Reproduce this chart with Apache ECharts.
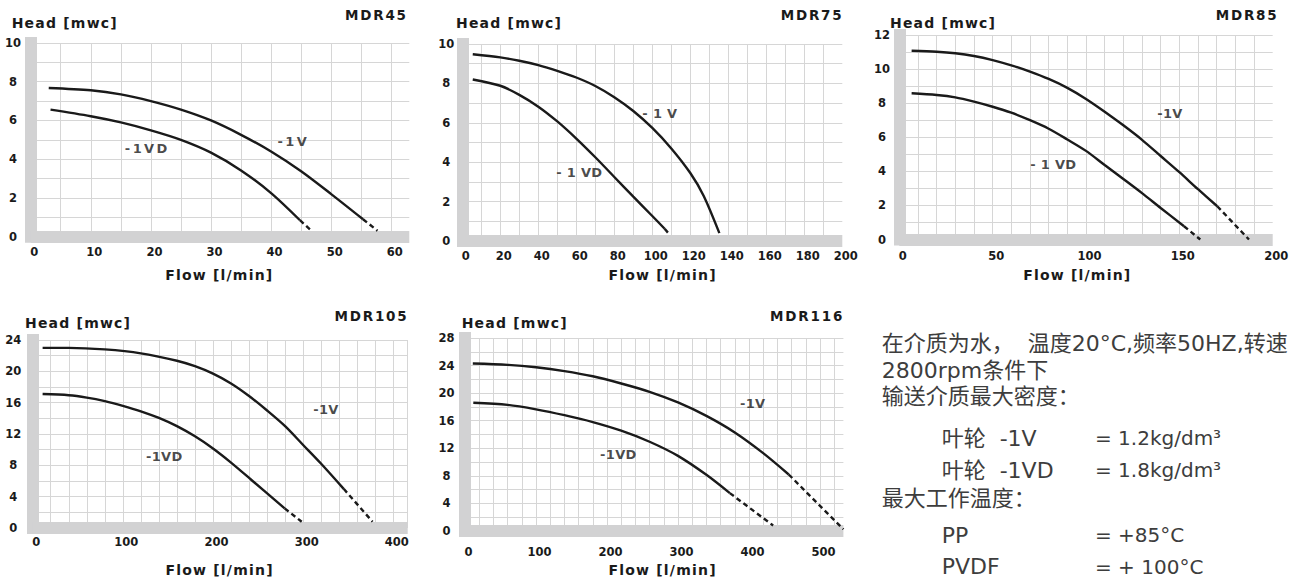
<!DOCTYPE html>
<html>
<head>
<meta charset="utf-8">
<script src="https://cdn.jsdelivr.net/npm/echarts@6.0.0/dist/echarts.min.js"></script>
<style>
html,body{margin:0;padding:0;background:#ffffff;}
#chart{width:1302px;height:580px;}
text[style*="lsAxis"]{letter-spacing:1.2px;}
text[style*="lsTitle"]{letter-spacing:1.8px;}
text[style*="lsWide"]{letter-spacing:2.4px;}
text[style*="lsMid"]{letter-spacing:0.3px;}
</style>
</head>
<body>
<div id="chart"></div>
<script>
// ---------------- data ----------------
const MODELS = ['MDR45', 'MDR75', 'MDR85', 'MDR105', 'MDR116'];
const X_MAX = [63, 200, 200, 416, 533];
const Y_MAX = [10, 10, 12, 24, 28];
const X_GRID_STEP = [5, 10, 10, 20, 20];
const X_LABEL_STEP = [10, 20, 50, 100, 100];
const Y_GRID_STEP = [1, 1, 1, 2, 2];
const Y_LABEL_STEP = [2, 2, 2, 4, 4];
const X_AXIS_NAME = 'Flow [l/min]';
const Y_AXIS_NAME = 'Head [mwc]';

// MDR45
const MDR45_1V = [[3, 7.68], [10, 7.56], [15, 7.35], [20, 7.0], [25, 6.56], [30, 6.0], [35, 5.26], [40, 4.4], [45, 3.38], [50, 2.2], [55.3, 0.9]];
const MDR45_1V_DASH = [[55.3, 0.9], [57.7, 0.31]];
const MDR45_1VD = [[3.3, 6.56], [10, 6.22], [15, 5.9], [20, 5.49], [25, 5.0], [30, 4.34], [35, 3.42], [40, 2.25], [44.8, 0.85]];
const MDR45_1VD_DASH = [[44.8, 0.85], [46.7, 0.31]];
const MDR45_LABELS = [[19.4, 4.54, '-1VD'], [43.7, 4.9, '-1V']];

// MDR75
const MDR75_1V = [[5.5, 9.48], [20, 9.32], [30, 9.15], [40, 8.93], [50, 8.64], [60, 8.3], [70, 7.87], [80, 7.3], [90, 6.6], [100, 5.74], [110, 4.7], [120, 3.45], [127, 2.3], [135.3, 0.4]];
const MDR75_1V_DASH = [];
const MDR75_1VD = [[5.5, 8.2], [20, 7.88], [30, 7.42], [40, 6.82], [50, 6.07], [60, 5.2], [70, 4.25], [80, 3.25], [90, 2.25], [100, 1.27], [106.5, 0.62]];
const MDR75_1VD_DASH = [[106.5, 0.62], [109.3, 0.3]];
const MDR75_LABELS = [[104, 6.48, '- 1 V'], [61.6, 3.49, '- 1 VD']];

// MDR85
const MDR85_1V = [[6.6, 11.08], [20, 11.02], [30, 10.93], [40, 10.77], [50, 10.53], [60, 10.22], [70, 9.85], [80, 9.42], [90, 8.9], [100, 8.25], [110, 7.5], [120, 6.7], [130, 5.85], [140, 4.9], [150, 3.95], [160, 2.95], [170.3, 1.95]];
const MDR85_1V_DASH = [[170.3, 1.95], [187.3, 0.0]];
const MDR85_1VD = [[6.6, 8.58], [20, 8.48], [30, 8.34], [40, 8.09], [50, 7.79], [60, 7.44], [70, 7.0], [80, 6.5], [90, 5.87], [100, 5.2], [110, 4.37], [120, 3.55], [130, 2.72], [140, 1.85], [152.5, 0.78]];
const MDR85_1VD_DASH = [[152.5, 0.78], [161.2, 0.0]];
const MDR85_LABELS = [[145, 7.4, '-1V'], [82.5, 4.43, '- 1 VD']];

// MDR105
const MDR105_1V = [[11, 23.0], [40, 23.0], [80, 22.8], [120, 22.3], [160, 21.35], [180, 20.65], [200, 19.7], [220, 18.45], [240, 16.85], [260, 15.0], [280, 13.0], [300, 10.6], [320, 8.2], [345, 5.0]];
const MDR105_1V_DASH = [[345, 5.0], [377, 0.8]];
const MDR105_1VD = [[11, 17.1], [40, 16.95], [60, 16.65], [80, 16.2], [100, 15.6], [120, 14.9], [140, 14.05], [160, 13.0], [180, 11.7], [200, 10.15], [220, 8.35], [243, 6.1], [279.5, 2.5]];
const MDR105_1VD_DASH = [[279.5, 2.5], [298.4, 0.8]];
const MDR105_LABELS = [[325.3, 15.07, '-1V'], [146, 9.1, '-1VD']];

// MDR116
const MDR116_1V = [[11, 24.3], [60, 24.1], [100, 23.75], [140, 23.2], [180, 22.45], [220, 21.4], [260, 20.2], [300, 18.65], [340, 16.7], [380, 14.3], [420, 11.3], [456, 8.2]];
const MDR116_1V_DASH = [[456, 8.2], [533, 0.25]];
const MDR116_1VD = [[11.7, 18.6], [60, 18.3], [100, 17.65], [140, 16.8], [180, 15.8], [220, 14.55], [260, 12.95], [300, 10.9], [340, 8.15], [373, 5.5]];
const MDR116_1VD_DASH = [[373, 5.5], [434, 0.8]];
const MDR116_LABELS = [[405.2, 18.53, '-1V'], [216, 11.03, '-1VD']];

// Notes text
const NOTE_LINES = [
  '在介质为水，  温度20°C,频率50HZ,转速',
  '2800rpm条件下',
  '输送介质最大密度：',
  '最大工作温度：'
];
const NOTE_ROWS = [
  ['叶轮  -1V', '= 1.2kg/dm³'],
  ['叶轮  -1VD', '= 1.8kg/dm³'],
  ['PP', '= +85°C'],
  ['PVDF', '= + 100°C']
];

// ---------------- layout / style ----------------
const CURVES = [
  [MDR45_1V, MDR45_1V_DASH, MDR45_1VD, MDR45_1VD_DASH, MDR45_LABELS],
  [MDR75_1V, MDR75_1V_DASH, MDR75_1VD, MDR75_1VD_DASH, MDR75_LABELS],
  [MDR85_1V, MDR85_1V_DASH, MDR85_1VD, MDR85_1VD_DASH, MDR85_LABELS],
  [MDR105_1V, MDR105_1V_DASH, MDR105_1VD, MDR105_1VD_DASH, MDR105_LABELS],
  [MDR116_1V, MDR116_1V_DASH, MDR116_1VD, MDR116_1VD_DASH, MDR116_LABELS]
];
const GRID_RECT = [
  [30.7, 43, 378.6, 193.7],
  [462.3, 44, 380, 197],
  [899.3, 35, 373.4, 204.5],
  [32.7, 340, 375, 188],
  [465, 338, 378.4, 193]
];
const Y_LABEL_MARGIN = [17.7, 16, 17.3, 19.4, 18.5];
const X_LABEL_MARGIN = [9.6, 8.7, 10.2, 8.3, 15.3];
const X_SHOW_MAX_LINE = [false, false, false, true, false];
const CURVE_FONT = ['lsWide', 'lsMid', 'lsMid', 'lsMid', 'lsMid'];
const HEAD_POS = [[11.7, 23], [456, 23.3], [890, 23.3], [25, 323.3], [461.7, 323.3]];
const TITLE_POS = [[407.8, 15], [843.5, 15], [1278.5, 15], [408.5, 316], [844.1, 316]];
const FLOW_POS = [[219.3, 275], [662.6, 275], [1077.3, 275], [219.6, 570], [662.6, 570]];

const BAR = '#d2d2d3';
const GRIDC = '#d6d6d6';
const INK = '#1a1a1a';
const FF = "'DejaVu Sans', 'Liberation Sans', sans-serif";

const grids = [], xAxes = [], yAxes = [], series = [], graphics = [];

MODELS.forEach((name, i) => {
  const r = GRID_RECT[i];
  grids.push({left: r[0], top: r[1], width: r[2], height: r[3], containLabel: false, outerBoundsMode: 'none'});
  xAxes.push({
    type: 'value', gridIndex: i, min: 0, max: X_MAX[i], interval: X_GRID_STEP[i],
    axisLine: {show: true, onZero: false, lineStyle: {color: BAR, width: 12, cap: 'butt'}},
    axisTick: {show: false},
    splitLine: {show: true, showMinLine: false, showMaxLine: X_SHOW_MAX_LINE[i], lineStyle: {color: GRIDC, width: 1}},
    axisLabel: {
      margin: X_LABEL_MARGIN[i], padding: [0, 0, 0, 7], fontFamily: FF, fontWeight: 'bold', fontSize: 11.5, color: INK,
      showMinLabel: true, showMaxLabel: true,
      formatter: v => (Math.abs(v % X_LABEL_STEP[i]) < 1e-9 ? String(v) : '')
    }
  });
  yAxes.push({
    type: 'value', gridIndex: i, min: 0, max: Y_MAX[i], interval: Y_GRID_STEP[i],
    axisLine: {show: true, onZero: false, lineStyle: {color: BAR, width: 12, cap: 'square'}},
    axisTick: {show: false},
    splitLine: {show: true, showMinLine: false, showMaxLine: true, lineStyle: {color: GRIDC, width: 1}},
    axisLabel: {
      margin: Y_LABEL_MARGIN[i], align: 'center', fontFamily: FF, fontWeight: 'bold', fontSize: 11.5, color: INK,
      showMinLabel: true, showMaxLabel: true,
      formatter: v => (Math.abs(v % Y_LABEL_STEP[i]) < 1e-9 ? String(v) : '')
    }
  });
  const c = CURVES[i];
  const solid = {color: INK, width: 2.4};
  const dash = {color: INK, width: 2.4, type: [5, 3.5]};
  [[c[0], solid, 0.3], [c[1], dash, 0], [c[2], solid, 0.3], [c[3], dash, 0]].forEach(([d, ls, sm]) => {
    if (!d.length) return;
    series.push({type: 'line', xAxisIndex: i, yAxisIndex: i, data: d, smooth: sm, symbol: 'none', showSymbol: false,
      lineStyle: ls, silent: true, animation: false, z: 3});
  });
  series.push({
    type: 'scatter', xAxisIndex: i, yAxisIndex: i, data: c[4], symbolSize: 1, silent: true, animation: false,
    itemStyle: {color: 'rgba(0,0,0,0)'}, z: 4,
    label: {show: true, position: 'inside', formatter: p => p.data[2], color: INK, fontWeight: 'bold', fontSize: 13,
      fontFamily: "'DejaVu Sans', " + CURVE_FONT[i]}
  });
  graphics.push({type: 'text', x: HEAD_POS[i][0], y: HEAD_POS[i][1], silent: true,
    style: {text: Y_AXIS_NAME, fill: INK, fontSize: 14, fontWeight: 'bold', fontFamily: "'DejaVu Sans', lsAxis",
      textAlign: 'left', textVerticalAlign: 'middle'}});
  graphics.push({type: 'text', x: TITLE_POS[i][0], y: TITLE_POS[i][1], silent: true,
    style: {text: name, fill: INK, fontSize: 13.5, fontWeight: 'bold', fontFamily: "'DejaVu Sans', lsTitle",
      textAlign: 'right', textVerticalAlign: 'middle'}});
  graphics.push({type: 'text', x: FLOW_POS[i][0], y: FLOW_POS[i][1], silent: true,
    style: {text: X_AXIS_NAME, fill: INK, fontSize: 14, fontWeight: 'bold', fontFamily: "'DejaVu Sans', lsAxis",
      textAlign: 'center', textVerticalAlign: 'middle'}});
});

// notes block
const NOTE_FF = "'DejaVu Sans', 'Noto Sans CJK SC', sans-serif";
const NOTE_COLOR = '#3d3d3d';
const noteText = (t, x, y, fs) => ({type: 'text', x: x, y: y, silent: true,
  style: {text: t, fill: NOTE_COLOR, fontSize: fs, fontFamily: NOTE_FF, textAlign: 'left', textVerticalAlign: 'middle'}});
graphics.push(noteText(NOTE_LINES[0], 881.7, 343.3, 22));
graphics.push(noteText(NOTE_LINES[1], 881.7, 370, 22));
graphics.push(noteText(NOTE_LINES[2], 881.7, 396.5, 22));
graphics.push(noteText(NOTE_ROWS[0][0], 941.7, 438.3, 22));
graphics.push(noteText(NOTE_ROWS[0][1], 1095, 438.3, 20));
graphics.push(noteText(NOTE_ROWS[1][0], 941.7, 470, 22));
graphics.push(noteText(NOTE_ROWS[1][1], 1095, 470, 20));
graphics.push(noteText(NOTE_LINES[3], 881.7, 498.3, 22));
graphics.push(noteText(NOTE_ROWS[2][0], 941.7, 535, 22));
graphics.push(noteText(NOTE_ROWS[2][1], 1095, 535, 20));
graphics.push(noteText(NOTE_ROWS[3][0], 941.7, 566.7, 22));
graphics.push(noteText(NOTE_ROWS[3][1], 1095, 566.7, 20));

const chart = echarts.init(document.getElementById('chart'), null, {renderer: 'svg'});
chart.setOption({
  animation: false,
  backgroundColor: '#ffffff',
  textStyle: {fontFamily: FF},
  grid: grids,
  xAxis: xAxes,
  yAxis: yAxes,
  series: series,
  graphic: graphics
});
</script>
</body>
</html>
